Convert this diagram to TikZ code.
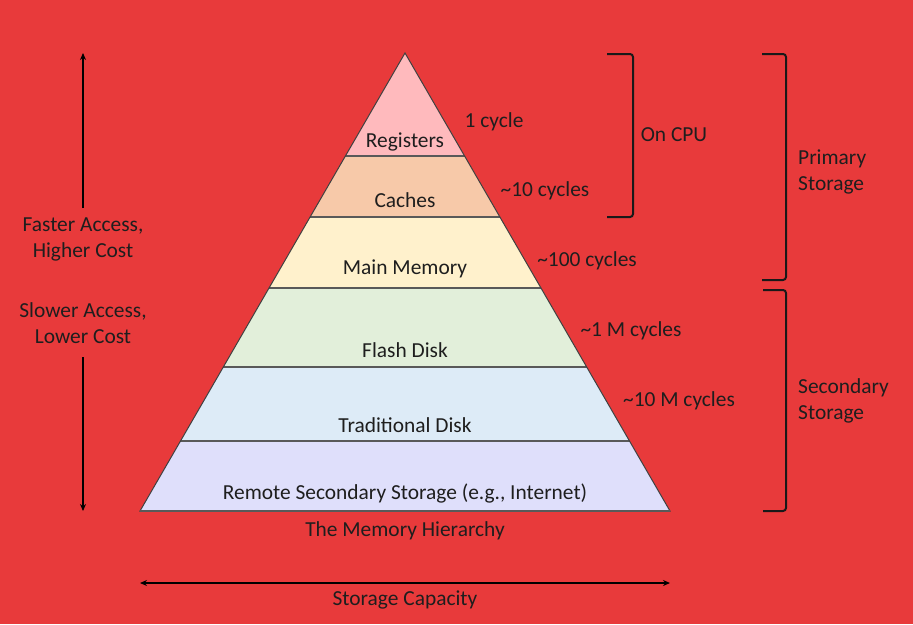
\documentclass[tikz,border=0pt]{standalone}
\usepackage{fontspec}
\setmainfont{Carlito}
\usetikzlibrary{arrows.meta}
\definecolor{bgred}{HTML}{E83A3B}
\definecolor{regc}{HTML}{FFBABD}
\definecolor{cachec}{HTML}{F7C9A9}
\definecolor{mainc}{HTML}{FFF1CC}
\definecolor{flashc}{HTML}{E2EFDA}
\definecolor{tradc}{HTML}{DDEBF7}
\definecolor{remc}{HTML}{DFDFFB}
\definecolor{txt}{HTML}{1E1E1E}
\begin{document}
\begin{tikzpicture}[x=1pt,y=-1pt,
  lbl/.style={inner sep=0pt,text=txt,font=\fontsize{21.4}{26}\selectfont},
  sep/.style={draw=black!65,line width=1.6pt},
  arr/.style={line width=1.8pt,draw=black,{Stealth[length=7pt,width=6pt]}-{Stealth[length=7pt,width=6pt]}},
  uparr/.style={line width=1.8pt,draw=black,-{Stealth[length=7pt,width=6pt]}},
  brk/.style={line width=2pt,draw=black!90,rounded corners=3pt}]
\fill[bgred] (0,0) rectangle (913,624);
\useasboundingbox (0,0) rectangle (913,624);
% pyramid
\coordinate (apex) at (405,53);
\coordinate (bl) at (140,511);
\coordinate (br) at (670,511);
\begin{scope}
\clip (apex) -- (bl) -- (br) -- cycle;
\fill[regc] (100,40) rectangle (700,156);
\fill[cachec] (100,156) rectangle (700,217);
\fill[mainc] (100,217) rectangle (700,288);
\fill[flashc] (100,288) rectangle (700,367);
\fill[tradc] (100,367) rectangle (700,441);
\fill[remc] (100,441) rectangle (700,520);
\draw[sep] (100,156) -- (700,156);
\draw[sep] (100,217) -- (700,217);
\draw[sep] (100,288) -- (700,288);
\draw[sep] (100,367) -- (700,367);
\draw[sep] (100,441) -- (700,441);
\end{scope}
\draw[draw=black!75,line width=1pt,line join=miter] (apex) -- (bl) -- (br) -- cycle;
\draw[draw=black!65,line width=1.6pt] (bl) -- (br);
% layer labels
\node[lbl] (reg) at (405,142) {Registers};
\node[lbl] (cac) at (405,200) {Caches};
\node[lbl] (mm) at (405,269) {Main Memory};
\node[lbl] (fd) at (405,350) {Flash Disk};
\node[lbl] (td) at (405,425) {Traditional Disk};
\node[lbl] (rs) at (405,494) {Remote Secondary Storage (e.g., Internet)};
\node[lbl] (title) at (405,531) {The Memory Hierarchy};
% latencies
\node[lbl] (l1) at (494,122) {1 cycle};
\node[lbl] (l2) at (545,191) {\textasciitilde10 cycles};
\node[lbl] (l3) at (587,261) {\textasciitilde100 cycles};
\node[lbl] (l4) at (631,331) {\textasciitilde1 M cycles};
\node[lbl] (l5) at (679,401) {\textasciitilde10 M cycles};
% left arrows
\node[lbl,align=center] (fast) at (83,239.5) {Faster Access,\\Higher Cost};
\node[lbl,align=center] (slow) at (83,323.5) {Slower Access,\\Lower Cost};
\coordinate (uptop) at (83,53);
\coordinate (upbot) at (83,208);
\coordinate (dntop) at (83,357);
\coordinate (dnbot) at (83,511);
\draw[uparr] (upbot) -- (uptop);
\draw[uparr] (dntop) -- (dnbot);
% bottom arrow
\coordinate (hl) at (140,583);
\coordinate (hr) at (670,583);
\draw[arr] (hl) -- (hr);
\node[lbl] (cap) at (405,600) {Storage Capacity};
% brackets
\draw[brk] (607,54) -- (633,54) -- (633,217) -- (607,217);
\node[lbl] (cpu) at (674,135) {On CPU};
\draw[brk] (762,54) -- (786,54) -- (786,280) -- (762,280);
\node[lbl,align=left,anchor=west] (prim) at (798,171.5) {Primary\\Storage};
\draw[brk] (763,290) -- (786,290) -- (786,511) -- (763,511);
\node[lbl,align=left,anchor=west] (sec) at (798,400.5) {Secondary\\Storage};
\end{tikzpicture}
\end{document}
